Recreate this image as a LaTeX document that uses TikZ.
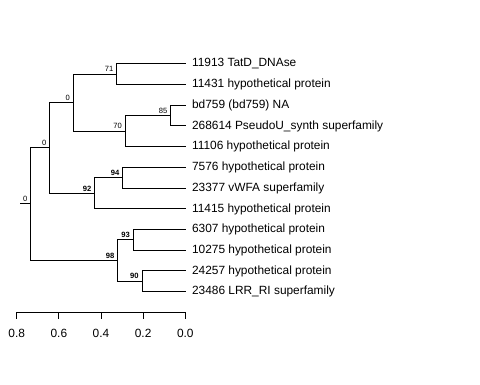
\documentclass[tikz,border=0pt]{standalone}
\usepackage{fontspec}
\setmainfont{Liberation Sans}
\begin{document}
\begin{tikzpicture}[x=1pt,y=-1pt,line width=0.9pt,
  branch/.style={draw=black,line cap=rect},
  leaflabel/.style={anchor=base west,inner sep=0pt,font=\fontsize{11.9}{12}\selectfont},
  bsn/.style={anchor=south east,inner sep=0pt,font=\fontsize{7.6}{8}\selectfont},
  bsb/.style={anchor=south east,inner sep=0pt,font=\fontsize{7.6}{8}\selectfont\bfseries},
  ticklabel/.style={anchor=base,inner sep=0pt,font=\fontsize{11.9}{12}\selectfont}]
\useasboundingbox (0,0) rectangle (480,384);
% leaf tips
\foreach \i in {0,...,11} {\coordinate (t\i) at (185.3,{63.6+20.73*\i});}
% internal nodes
\coordinate (root) at (30.7,203.9);
\coordinate (stub) at (20.7,203.9);
\coordinate (A) at (49.7,147.8);
\coordinate (C) at (73.3,102.4);
\coordinate (E) at (116.7,73.95);
\coordinate (F) at (125.3,131.0);
\coordinate (G) at (170.7,115.4);
\coordinate (D) at (94.7,193.5);
\coordinate (H) at (122.7,177.3);
\coordinate (B) at (117.7,260.3);
\coordinate (I) at (133.3,239.9);
\coordinate (J) at (142.0,281.1);
% branches
\draw[branch] (stub) -- (root);
\draw[branch] (root) |- (A);
\draw[branch] (root) |- (B);
\draw[branch] (A) |- (C);
\draw[branch] (A) |- (D);
\draw[branch] (C) |- (E);
\draw[branch] (C) |- (F);
\draw[branch] (E) |- (t0);
\draw[branch] (E) |- (t1);
\draw[branch] (F) |- (G);
\draw[branch] (F) |- (t4);
\draw[branch] (G) |- (t2);
\draw[branch] (G) |- (t3);
\draw[branch] (D) |- (H);
\draw[branch] (D) |- (t7);
\draw[branch] (H) |- (t5);
\draw[branch] (H) |- (t6);
\draw[branch] (B) |- (I);
\draw[branch] (B) |- (J);
\draw[branch] (I) |- (t8);
\draw[branch] (I) |- (t9);
\draw[branch] (J) |- (t10);
\draw[branch] (J) |- (t11);
% leaf labels
\tikzset{lo/.style={xshift=6.3pt,yshift=-3.3pt}}
\node[leaflabel] (l0) at ([lo]t0) {11913 TatD\_DNAse};
\node[leaflabel] (l1) at ([lo]t1) {11431 hypothetical protein};
\node[leaflabel] (l2) at ([lo]t2) {bd759 (bd759) NA};
\node[leaflabel] (l3) at ([lo]t3) {268614 PseudoU\_synth superfamily};
\node[leaflabel] (l4) at ([lo]t4) {11106 hypothetical protein};
\node[leaflabel] (l5) at ([lo]t5) {7576 hypothetical protein};
\node[leaflabel] (l6) at ([lo]t6) {23377 vWFA superfamily};
\node[leaflabel] (l7) at ([lo]t7) {11415 hypothetical protein};
\node[leaflabel] (l8) at ([lo]t8) {6307 hypothetical protein};
\node[leaflabel] (l9) at ([lo]t9) {10275 hypothetical protein};
\node[leaflabel] (l10) at ([lo]t10) {24257 hypothetical protein};
\node[leaflabel] (l11) at ([lo]t11) {23486 LRR\_RI superfamily};
% bootstrap labels
\tikzset{bo/.style={xshift=-3pt,yshift=1.6pt}}
\node[bsn] (bR) at ([bo]root) {0};
\node[bsn] (bA) at ([bo]A) {0};
\node[bsn] (bC) at ([bo]C) {0};
\node[bsn] (bE) at ([bo]E) {71};
\node[bsn] (bF) at ([bo]F) {70};
\node[bsn] (bG) at ([bo]G) {85};
\node[bsb] (bD) at ([bo]D) {92};
\node[bsb] (bH) at ([bo]H) {94};
\node[bsb] (bB) at ([bo]B) {98};
\node[bsb] (bI) at ([bo]I) {93};
\node[bsb] (bJ) at ([bo]J) {90};
% axis
\coordinate (ax0) at (16.7,312.2);
\coordinate (ax1) at (185.3,312.2);
\draw[branch,line cap=butt] (ax0) -- (ax1);
\foreach \v/\lab [count=\k] in {0/0.8,1/0.6,2/0.4,3/0.2,4/0.0} {
  \coordinate (tk\k) at ({16.7+42.15*\v},312.2);
  \draw[line cap=butt] (tk\k) -- ++(0,7);
  \node[ticklabel] (tl\k) at ([yshift=-25pt]tk\k) {\lab};
}
\end{tikzpicture}
\end{document}
